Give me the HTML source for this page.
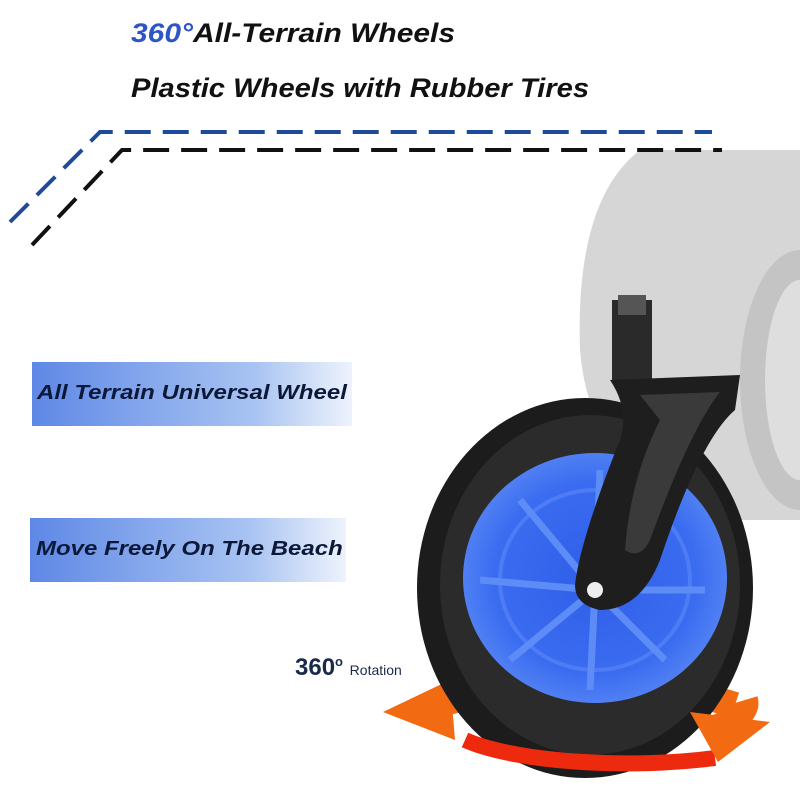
<!DOCTYPE html>
<html><head><meta charset="utf-8"><style>
body{margin:0;width:800px;height:800px;background:#fff;overflow:hidden;position:relative;font-family:"Liberation Sans",sans-serif}
.t{position:absolute;font-weight:bold;font-style:italic;color:#111;font-size:27px;white-space:nowrap;transform-origin:left top}
.b{position:absolute;background:linear-gradient(90deg,#5e88e6,#a9c4f2 70%,#eef3fc);box-sizing:border-box}
.b span{position:absolute;left:5px;top:50%;margin-top:-12px;color:#0c1838;font-weight:bold;font-style:italic;font-size:20px;white-space:nowrap;transform-origin:left center}
</style></head><body>
<svg width="800" height="800" style="position:absolute;left:0;top:0">
<defs><radialGradient id="hub" cx="50%" cy="50%" r="55%"><stop offset="0" stop-color="#2f5ee8"/><stop offset="0.7" stop-color="#3a6cf0"/><stop offset="1" stop-color="#5a88f5"/></radialGradient></defs>
<path d="M640 150 L800 150 L800 520 L700 520 Q590 470 580 350 Q575 200 640 150Z" fill="#d6d6d6"/>
<ellipse cx="800" cy="380" rx="60" ry="130" fill="#c4c4c4"/>
<ellipse cx="800" cy="380" rx="35" ry="100" fill="#dedede"/>
<polyline points="10,222 100,132 712,132" fill="none" stroke="#1f4a9a" stroke-width="4" stroke-dasharray="26,12"/>
<polyline points="32,245 122,150 722,150" fill="none" stroke="#111" stroke-width="4" stroke-dasharray="26,12"/>
<rect x="612" y="300" width="40" height="80" fill="#2a2a2a"/>
<rect x="618" y="295" width="28" height="20" fill="#555"/>
<path d="M415 715 A185 45 0 0 1 735 705" fill="none" stroke="#f26a12" stroke-width="26"/>
<polygon points="383,712 450,680 455,740" fill="#f26a12"/>
<ellipse cx="585" cy="588" rx="168" ry="190" fill="#1c1c1c"/>
<ellipse cx="590" cy="585" rx="150" ry="170" fill="#2b2b2b"/>
<ellipse cx="595" cy="578" rx="132" ry="125" fill="url(#hub)"/>
<ellipse cx="595" cy="580" rx="95" ry="90" fill="none" stroke="#4d7cf5" stroke-width="4"/>
<g stroke="#5d8cf7" stroke-width="7">
<line x1="595" y1="590" x2="520" y2="500"/><line x1="595" y1="590" x2="480" y2="580"/><line x1="595" y1="590" x2="510" y2="660"/><line x1="595" y1="590" x2="590" y2="690"/><line x1="595" y1="590" x2="665" y2="660"/><line x1="595" y1="590" x2="705" y2="590"/><line x1="595" y1="590" x2="600" y2="470"/>
</g>
<path d="M610 380 L740 375 L735 410 Q700 440 660 560 Q640 610 600 610 Q575 605 575 585 Q580 540 620 440 Q630 410 610 380Z" fill="#1e1e1e"/>
<path d="M640 395 L720 392 Q690 430 650 540 Q640 560 625 550 Q630 480 660 420Z" fill="#3a3a3a"/>
<circle cx="595" cy="590" r="8" fill="#eee"/>
<path d="M465 740 A185 45 0 0 0 715 758" fill="none" stroke="#ee2a0e" stroke-width="16"/>
<path d="M745 700 A185 45 0 0 1 715 728" fill="none" stroke="#f26a12" stroke-width="26"/>
<polygon points="690,712 770,722 718,762" fill="#f26a12"/>
</svg>
<div class="t" style="left:131px;top:18px;transform:scaleX(1.11)"><span style="color:#2d55c8">360°</span>All-Terrain Wheels</div>
<div class="t" style="left:131px;top:73px;transform:scaleX(1.08)">Plastic Wheels with Rubber Tires</div>
<div class="b" style="left:32px;top:362px;width:320px;height:64px"><span style="transform:scaleX(1.2)">All Terrain Universal Wheel</span></div>
<div class="b" style="left:30px;top:518px;width:316px;height:64px"><span style="left:6px;transform:scaleX(1.2)">Move Freely On The Beach</span></div>
<div style="position:absolute;left:295px;top:654px;color:#1a2a4a;font-weight:bold;font-size:24px">360<sup style="font-size:13px">o</sup> <span style="font-size:14px;font-weight:normal">Rotation</span></div>
</body></html>
